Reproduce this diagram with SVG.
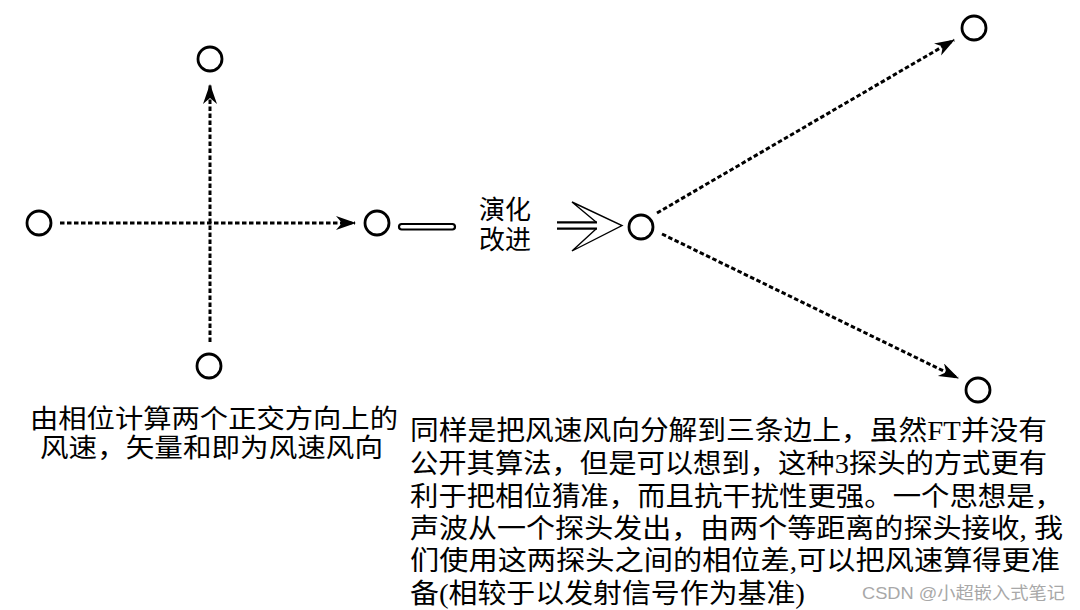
<svg xmlns="http://www.w3.org/2000/svg" width="1080" height="610" viewBox="0 0 1080 610">
<style>
.node{fill:#fff;stroke:#000;stroke-width:2.8}
.dash{fill:none;stroke:#000;stroke-width:3;stroke-dasharray:4.5 2.5}
.txt{font-family:"Liberation Serif","Noto Sans CJK SC",serif;fill:#000}
.wm{font-family:"Liberation Sans","Noto Sans CJK SC",sans-serif;fill:#a8a8a8;font-size:17px}
</style>
<defs>
<marker id="arr" markerWidth="22" markerHeight="16" refX="19" refY="7" orient="auto" markerUnits="userSpaceOnUse">
<path d="M0,0 L20,7 L0,14 L6,7 z" fill="#000"/>
</marker>
</defs>
<rect width="1080" height="610" fill="#fff"/>
<g id="connectors">
<line class="dash" x1="60" y1="223" x2="355" y2="223" marker-end="url(#arr)"/>
<line class="dash" x1="210" y1="342" x2="210" y2="85" marker-end="url(#arr)"/>
<line class="dash" x1="657" y1="213" x2="954" y2="40" marker-end="url(#arr)"/>
<line class="dash" x1="662" y1="234" x2="958" y2="378" marker-end="url(#arr)"/>
<rect id="link-double" x="399" y="224" width="56" height="5.5" rx="2.7" fill="#fff" stroke="#000" stroke-width="2.2"/>
<g id="evolve-arrow">
<path d="M596,222 L572,202 L622,225.5 L572,251 L596,229" fill="#fff" stroke="#000" stroke-width="1.4" stroke-linejoin="miter"/>
<line x1="557" y1="222.3" x2="597" y2="222.3" stroke="#000" stroke-width="2.3"/>
<line x1="557" y1="228.7" x2="597" y2="228.7" stroke="#000" stroke-width="2.3"/>
</g>
</g>
<g id="n-left"><circle class="node" cx="39" cy="223" r="12"/></g>
<g id="n-top"><circle class="node" cx="210" cy="59" r="12"/></g>
<g id="n-bottom"><circle class="node" cx="209" cy="366" r="12"/></g>
<g id="n-right"><circle class="node" cx="377" cy="223" r="12"/></g>
<g id="n-center"><circle class="node" cx="641" cy="227" r="12"/></g>
<g id="n-upper"><circle class="node" cx="974" cy="28" r="12"/></g>
<g id="n-lower"><circle class="node" cx="978" cy="390" r="12"/></g>
<g id="label-evolve" class="txt" font-size="26">
<text x="505" y="219" text-anchor="middle">演化</text>
<text x="505" y="249" text-anchor="middle">改进</text>
</g>
<g id="caption-left" class="txt" font-size="26">
<text x="30" y="428" textLength="368" lengthAdjust="spacingAndGlyphs">由相位计算两个正交方向上的</text>
<text x="40" y="457" textLength="343" lengthAdjust="spacingAndGlyphs">风速，矢量和即为风速风向</text>
</g>
<g id="caption-right" class="txt" font-size="27">
<text x="410" y="440" textLength="637" lengthAdjust="spacingAndGlyphs">同样是把风速风向分解到三条边上，虽然FT并没有</text>
<text x="410" y="473" textLength="637" lengthAdjust="spacingAndGlyphs">公开其算法，但是可以想到，这种3探头的方式更有</text>
<text x="410" y="506" textLength="653" lengthAdjust="spacingAndGlyphs">利于把相位猜准，而且抗干扰性更强。一个思想是，</text>
<text x="410" y="538" textLength="653" lengthAdjust="spacingAndGlyphs">声波从一个探头发出，由两个等距离的探头接收, 我</text>
<text x="410" y="570" textLength="650" lengthAdjust="spacingAndGlyphs">们使用这两探头之间的相位差,可以把风速算得更准</text>
<text x="410" y="603" textLength="395" lengthAdjust="spacingAndGlyphs">备(相较于以发射信号作为基准)</text>
</g>
<text class="wm" x="862" y="599" textLength="203" lengthAdjust="spacingAndGlyphs">CSDN @小超嵌入式笔记</text>
</svg>
